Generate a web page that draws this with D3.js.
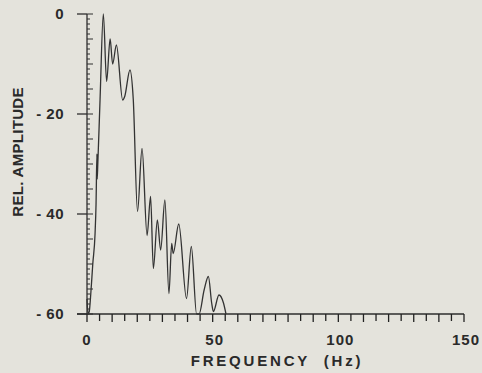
<!DOCTYPE html>
<html>
<head>
<meta charset="utf-8">
<script src="https://cdn.jsdelivr.net/npm/d3@7"></script>
<style>
  html, body { margin: 0; padding: 0; background: #e4e3dc; }
  svg { display: block; }
  text { font-family: "Liberation Sans", Arial, sans-serif; font-weight: bold; fill: #2a2a2a; }
</style>
</head>
<body>
<div id="chart"></div>
<script>
// spectrum trace (Hz, dB)
const freqHz = [0, 0.4, 0.9, 1.5, 2.3, 3.2, 3.6, 3.95, 4.05, 4.3, 5.2, 6.5,
  7.8, 9.2, 10.2, 11.7, 14.2, 15.0, 17.1, 18.4, 20.1, 21.9, 23.9, 25.3, 26.4,
  28.0, 29.3, 31.0, 32.6, 33.7, 34.3, 36.5, 39.6, 41.5, 43.6, 44.6, 46.6,
  48.3, 49.6, 50.3, 52.5, 54.3, 55.3];
const relAmp = [-57, -60, -59.5, -56, -50, -44, -38, -28, -33, -30, -17, 0,
  -13.5, -5, -10, -6.2, -17.2, -16.5, -11.2, -17, -39.5, -26.9, -44.3, -36.5, -50.9,
  -41.2, -47.2, -37.2, -55.9, -45.9, -47.9, -42, -56.9, -46.5, -60, -60, -55.2,
  -52.5, -57.8, -59.5, -56.2, -57.8, -60];

const xTickLabels = [0, 50, 100, 150];
const yTickLabels = [0, -20, -40, -60];

const W = 482, H = 373;
const m = { left: 87, right: 18, top: 14, bottom: 59 };

const svg = d3.select('#chart').append('svg')
  .attr('width', W).attr('height', H);

const x = d3.scaleLinear().domain([0, 150]).range([m.left, W - m.right]);
const y = d3.scaleLinear().domain([-60, 0]).range([H - m.bottom, m.top]);

const ink = '#2e2e2e';

// y axis: line, inner minor ticks, outer major ticks
svg.append('line')
  .attr('x1', x(0)).attr('x2', x(0))
  .attr('y1', y(0)).attr('y2', y(-60))
  .attr('stroke', ink).attr('stroke-width', 1.3);

svg.append('g').selectAll('line')
  .data(d3.range(-60, 1, 1))
  .join('line')
  .attr('x1', x(0))
  .attr('x2', d => x(0) + (d % 5 === 0 ? 6 : 3))
  .attr('y1', d => y(d)).attr('y2', d => y(d))
  .attr('stroke', ink).attr('stroke-width', 1);

svg.append('g').selectAll('line')
  .data(yTickLabels)
  .join('line')
  .attr('x1', x(0) - 10).attr('x2', x(0))
  .attr('y1', d => y(d)).attr('y2', d => y(d))
  .attr('stroke', ink).attr('stroke-width', 1.3);

svg.append('g').selectAll('text')
  .data(yTickLabels)
  .join('text')
  .attr('x', 64)
  .attr('y', d => y(d))
  .attr('dy', '0.36em')
  .attr('text-anchor', 'end')
  .attr('font-size', 15)
  .attr('letter-spacing', 0.5)
  .text(d => d === 0 ? '0' : '- ' + Math.abs(d));

// x axis
svg.append('line')
  .attr('x1', x(0) - 10).attr('x2', x(150))
  .attr('y1', y(-60)).attr('y2', y(-60))
  .attr('stroke', ink).attr('stroke-width', 1.3);

const xTicks = svg.append('g').attr('class', 'xticks');
d3.range(0, 151, 5).forEach(f => {
  xTicks.append('line')
    .attr('x1', x(f)).attr('x2', x(f))
    .attr('y1', y(-60)).attr('y2', y(-60) + (f % 10 === 0 ? 8 : 7))
    .attr('stroke', '#222').attr('stroke-width', 1.3);
});

svg.append('g').selectAll('text')
  .data(xTickLabels)
  .join('text')
  .attr('x', d => x(d) + (d === 0 ? 0 : 2))
  .attr('y', 345)
  .attr('text-anchor', 'middle')
  .attr('font-size', 15)
  .attr('letter-spacing', 1)
  .text(d => d);

// axis titles
svg.append('text')
  .attr('x', 277).attr('y', 366)
  .attr('text-anchor', 'middle')
  .attr('font-size', 15)
  .attr('letter-spacing', 2.8)
  .attr('xml:space', 'preserve')
  .text('FREQUENCY  (Hz)');

svg.append('text')
  .attr('transform', 'translate(23,152) rotate(-90)')
  .attr('text-anchor', 'middle')
  .attr('font-size', 15)
  .attr('letter-spacing', 0.3)
  .text('REL. AMPLITUDE');

// the trace
const line = d3.line()
  .x((d, i) => x(freqHz[i]))
  .y(d => y(d))
  .curve(d3.curveMonotoneX);

svg.append('path')
  .attr('d', line(relAmp))
  .attr('fill', 'none')
  .attr('stroke', '#333')
  .attr('stroke-width', 1.3)
  .attr('stroke-linejoin', 'round');
</script>
</body>
</html>
